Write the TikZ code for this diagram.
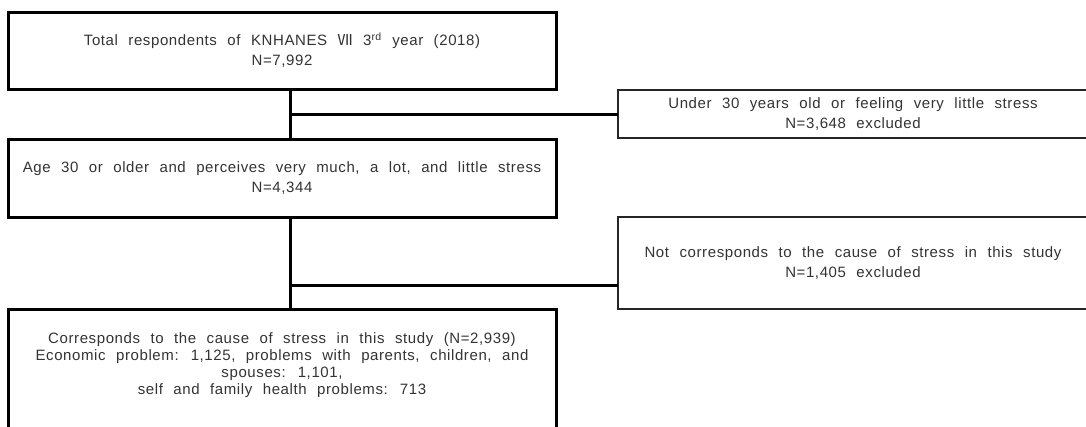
\documentclass[tikz,border=0pt]{standalone}
\usepackage{fontspec}
\setmainfont{Liberation Sans}[WordSpace=2.2, LetterSpace=4]
\newfontfamily\cjk{Noto Sans CJK KR}

\begin{document}
\begin{tikzpicture}[x=1pt,y=-1pt]
		\tikzset{
			every node/.style = {rectangle, outer sep=0pt, align=center, text=black!80,
				font=\fontsize{15}{20}\selectfont},
			mainbox/.style = {draw=black, line width=3pt, minimum width=548pt},
			exclbox/.style = {draw=black!85, line width=1.2pt, minimum width=470pt},
			link/.style = {draw=black, line width=3pt}
		}
		\useasboundingbox (0,0) rectangle (1086,426);
		\node [mainbox, minimum height=77pt] (total) at (282,50.5)
			{Total respondents of KNHANES {\cjk Ⅶ} 3\textsuperscript{rd} year (2018)\\N=7,992};
		\node [mainbox, minimum height=78pt] (age) at (282,178)
			{Age 30 or older and perceives very much, a lot, and little stress\\N=4,344};
		\node [mainbox, anchor=north, inner ysep=24pt, text height=61pt, text depth=22pt] (cause) at (282,309)
			{Corresponds to the cause of stress in this study (N=2,939)\\[-3.3pt]
			Economic problem: 1,125, problems with parents, children, and\\[-3.3pt]
			spouses: 1,101,\\[-3.3pt]
			self and family health problems: 713};
		\node [exclbox, minimum height=48pt] (young) at (853,114)
			{Under 30 years old or feeling very little stress\\N=3,648 excluded};
		\node [exclbox, minimum height=92pt] (notcause) at (853,263)
			{Not corresponds to the cause of stress in this study\\N=1,405 excluded};
		\coordinate (fork1) at (290,114);
		\coordinate (fork2) at (290,285);
		\draw [link] (total.south -| fork1) -- (age.north -| fork1);
		\draw [link] (fork1) -- (young.west |- fork1);
		\draw [link] (age.south -| fork2) -- (cause.north -| fork2);
		\draw [link] (fork2) -- (notcause.west |- fork2);
\end{tikzpicture}
\end{document}
